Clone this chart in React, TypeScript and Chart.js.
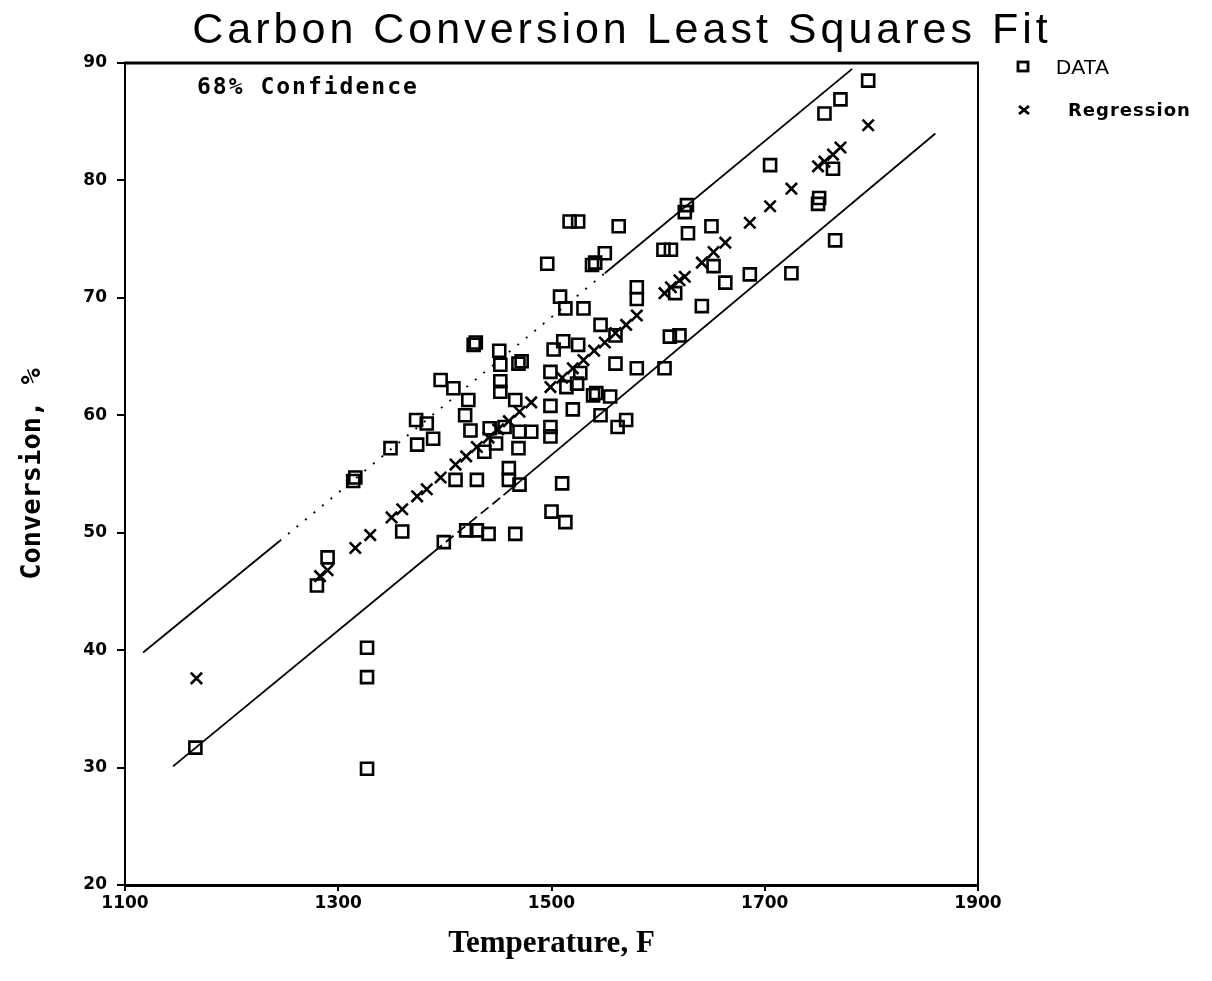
import React, { useEffect, useRef } from "react";
import { Chart, registerables } from "chart.js";

Chart.register(...registerables);

const TITLE = "Carbon Conversion Least Squares Fit";
const X_LABEL = "Temperature, F";
const Y_LABEL = "Conversion, %";
const NOTE = "68% Confidence";
const LEGEND_DATA = "DATA";
const LEGEND_REG = "Regression";

const X_TICKS = [1100, 1300, 1500, 1700, 1900];
const Y_TICKS = [20, 30, 40, 50, 60, 70, 80, 90];

const dataTemp = [
  1166, 1280, 1290, 1314, 1316, 1327, 1327, 1327, 1349, 1360,
  1373, 1374, 1383, 1389, 1396, 1399, 1408, 1410, 1419, 1420,
  1422, 1424, 1427, 1429, 1430, 1430, 1437, 1441, 1442, 1448,
  1451, 1452, 1452, 1452, 1456, 1460, 1460, 1466, 1466, 1469,
  1472, 1469, 1470, 1470, 1481, 1496, 1499, 1502, 1499, 1499,
  1499, 1500, 1508, 1510, 1511, 1513, 1513, 1514, 1517, 1525,
  1520, 1524, 1525, 1527, 1530, 1538, 1541, 1539, 1542, 1546,
  1546, 1550, 1555, 1560, 1562, 1563, 1560, 1570, 1580, 1580,
  1580, 1605, 1612, 1606, 1611, 1620, 1616, 1625, 1627, 1628,
  1641, 1650, 1652, 1663, 1686, 1705, 1725, 1750, 1751, 1756,
  1764, 1766, 1771, 1797,
];
const dataConv = [
  31.7, 45.5, 47.9, 54.4, 54.7, 40.2, 37.7, 29.9, 57.2, 50.1,
  59.6, 57.5, 59.3, 58.0, 63.0, 49.2, 62.3, 54.5, 60.0, 50.2,
  61.3, 58.7, 66.0, 66.2, 54.5, 50.2, 56.9, 49.9, 58.9, 57.6,
  65.5, 64.3, 62.9, 62.0, 59.0, 55.5, 54.5, 61.3, 49.9, 64.4,
  64.6, 57.2, 54.1, 58.6, 58.6, 72.9, 63.7, 65.6, 60.8, 59.0,
  58.2, 51.8, 70.1, 54.2, 66.3, 69.1, 50.9, 62.4, 76.5, 76.5,
  60.5, 62.7, 66.0, 63.6, 69.1, 72.8, 73.0, 61.7, 61.9, 67.7,
  60.0, 73.8, 61.6, 64.4, 59.0, 76.1, 66.8, 59.6, 70.9, 69.9,
  64.0, 74.1, 74.1, 64.0, 66.7, 66.8, 70.4, 77.3, 77.9, 75.5,
  69.3, 76.1, 72.7, 71.3, 72.0, 81.3, 72.1, 78.0, 78.5, 85.7,
  81.0, 74.9, 86.9, 88.5,
];

const regTemp = [
  1167, 1283, 1290, 1316, 1330, 1350, 1360, 1374, 1383, 1396,
  1410, 1420, 1430, 1441, 1450, 1460, 1470, 1481, 1499, 1510,
  1520, 1530, 1540, 1550, 1560, 1570, 1580, 1606, 1612, 1620,
  1625, 1641, 1652, 1663, 1686, 1705, 1725, 1750, 1756, 1764,
  1771, 1797,
];
const regConv = [
  37.6, 46.3, 46.8, 48.7, 49.8, 51.3, 52.0, 53.1, 53.7, 54.7,
  55.8, 56.5, 57.3, 58.1, 58.8, 59.5, 60.3, 61.1, 62.4, 63.2,
  64.0, 64.7, 65.5, 66.2, 67.0, 67.7, 68.5, 70.4, 70.9, 71.5,
  71.8, 73.0, 73.9, 74.7, 76.4, 77.8, 79.3, 81.2, 81.6, 82.2,
  82.8, 84.7,
];

const upperTemp = [1117, 1245, 1550, 1782];
const upperConv = [39.8, 49.3, 72.1, 89.5];
const lowerTemp = [1145, 1390, 1455, 1860];
const lowerConv = [30.1, 48.4, 53.2, 84.0];

const zip = (xs: number[], ys: number[]) => xs.map((x, i) => ({ x, y: ys[i] }));

const framePlugin = {
  id: "frameAndNotes",
  afterDraw(chart: any) {
    const { ctx, chartArea } = chart;
    const { left, right, top, bottom } = chartArea;
    ctx.save();
    ctx.strokeStyle = "#000";
    ctx.lineWidth = 3;
    ctx.beginPath();
    ctx.moveTo(left - 1, top);
    ctx.lineTo(right + 1, top);
    ctx.stroke();
    ctx.lineWidth = 2;
    ctx.beginPath();
    ctx.moveTo(right, top);
    ctx.lineTo(right, bottom);
    ctx.stroke();

    // title
    ctx.fillStyle = "#000";
    ctx.textBaseline = "middle";
    ctx.textAlign = "center";
    ctx.font = '43px "Liberation Sans", Arial, sans-serif';
    (ctx as any).letterSpacing = "4px";
    ctx.fillText(TITLE, 622, 31);

    // note
    ctx.textAlign = "left";
    ctx.font = 'bold 23px "DejaVu Sans Mono", monospace';
    (ctx as any).letterSpacing = "2px";
    ctx.fillText(NOTE, 197, 88);

    // legend
    (ctx as any).letterSpacing = "0px";
    ctx.lineWidth = 2.8;
    ctx.strokeRect(1018, 62, 10, 9);
    ctx.font = '21px "Liberation Sans Narrow", "Liberation Sans", sans-serif';
    ctx.fillText(LEGEND_DATA, 1056, 68);
    ctx.beginPath();
    ctx.moveTo(1019, 106);
    ctx.lineTo(1029, 114);
    ctx.moveTo(1029, 106);
    ctx.lineTo(1019, 114);
    ctx.stroke();
    ctx.font = 'bold 18px "DejaVu Sans", sans-serif';
    (ctx as any).letterSpacing = "1px";
    ctx.fillText(LEGEND_REG, 1068, 111);
    ctx.restore();
  },
};

export default function App() {
  const ref = useRef<HTMLCanvasElement | null>(null);
  useEffect(() => {
    if (!ref.current) return;
    const tickFont = { family: '"DejaVu Sans", sans-serif', size: 17, weight: "bold" as const };
    const chart = new Chart(ref.current, {
      type: "scatter",
      data: {
        datasets: [
          {
            label: LEGEND_DATA,
            data: zip(dataTemp, dataConv),
            pointStyle: "rect",
            pointRadius: 8.5,
            borderColor: "#000",
            borderWidth: 2.6,
            backgroundColor: "rgba(0,0,0,0)",
            showLine: false,
          },
          {
            label: LEGEND_REG,
            data: zip(regTemp, regConv),
            pointStyle: "crossRot",
            pointRadius: 8,
            borderColor: "#000",
            borderWidth: 2.6,
            showLine: false,
          },
          {
            label: "upper",
            data: zip(upperTemp, upperConv),
            showLine: true,
            pointRadius: 0,
            borderColor: "#000",
            borderWidth: 1.8,
            segment: { borderDash: (c: any) => (c.p0DataIndex === 1 ? [2, 9] : undefined) },
          } as any,
          {
            label: "lower",
            data: zip(lowerTemp, lowerConv),
            showLine: true,
            pointRadius: 0,
            borderColor: "#000",
            borderWidth: 1.8,
            segment: { borderDash: (c: any) => (c.p0DataIndex === 1 ? [10, 5] : undefined) },
          } as any,
        ],
      },
      options: {
        animation: false,
        responsive: true,
        maintainAspectRatio: false,
        layout: { padding: { top: 63, right: 234, left: 0, bottom: 0 } },
        plugins: { legend: { display: false }, tooltip: { enabled: false }, title: { display: false } },
        scales: {
          x: {
            type: "linear",
            min: 1100,
            max: 1900,
            afterBuildTicks: (s: any) => { s.ticks = X_TICKS.map((v) => ({ value: v })); },
            afterFit: (s: any) => { s.height = 96; },
            ticks: {
              font: tickFont,
              color: "#000",
              padding: 2,
              maxRotation: 0,
              callback: (v: any) => String(v),
            },
            grid: { drawOnChartArea: false, drawTicks: true, tickLength: 6, color: "#000", lineWidth: 2 },
            border: { display: true, color: "#000", width: 3 },
            title: {
              display: true,
              text: X_LABEL,
              color: "#000",
              font: { family: '"Liberation Serif", "Times New Roman", serif', size: 31, weight: "bold" },
              padding: { top: 0, bottom: 18 },
            },
          },
          y: {
            type: "linear",
            min: 20,
            max: 90,
            afterBuildTicks: (s: any) => { s.ticks = Y_TICKS.map((v) => ({ value: v })); },
            afterFit: (s: any) => { s.width = 125; },
            ticks: { font: tickFont, color: "#000", padding: 10, callback: (v: any) => String(v) },
            grid: { drawOnChartArea: false, drawTicks: true, tickLength: 8, color: "#000", lineWidth: 2 },
            border: { display: true, color: "#000", width: 2 },
            title: {
              display: true,
              text: Y_LABEL,
              color: "#000",
              font: { family: '"DejaVu Sans Mono", monospace', size: 27, weight: "bold" },
              padding: { top: 17, bottom: 0 },
            },
          },
        },
      },
      plugins: [framePlugin],
    } as any);
    return () => chart.destroy();
  }, []);
  return (
    <div style={{ position: "absolute", left: 0, top: 0, width: 1212, height: 981, background: "#fff" }}>
      <canvas ref={ref} />
    </div>
  );
}
